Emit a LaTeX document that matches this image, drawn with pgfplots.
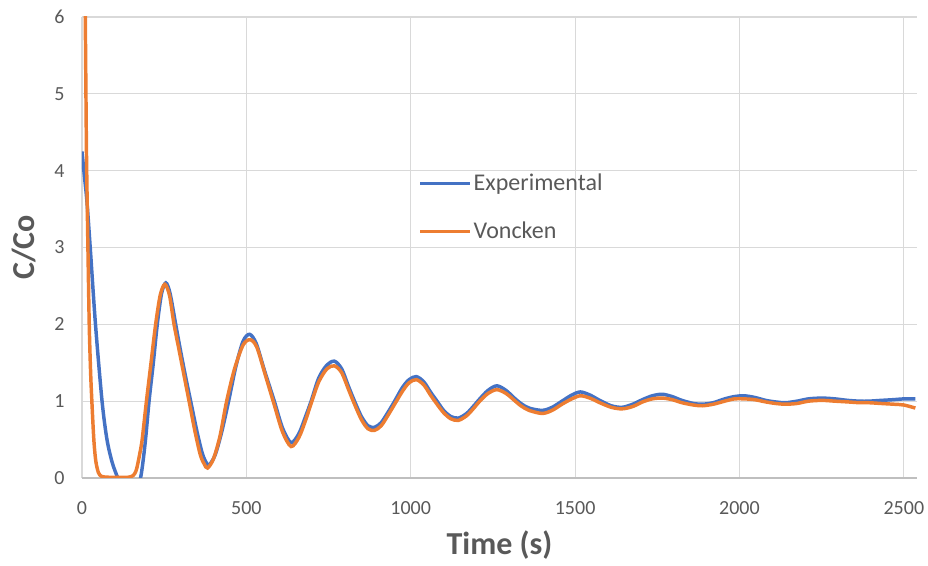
\documentclass[border=0pt]{standalone}
\usepackage{fontspec}
\setmainfont{Carlito}
\usepackage{pgfplots}
\pgfplotsset{compat=1.18}

\definecolor{expblue}{HTML}{4472C4}
\definecolor{vonorange}{HTML}{ED7D31}
\definecolor{gridgray}{HTML}{D9D9D9}
\definecolor{axisgray}{HTML}{BFBFBF}
\definecolor{textgray}{HTML}{595959}

\begin{document}
\begin{tikzpicture}
\begin{axis}[
    scale only axis,
    width=626.25pt,
    height=345.75pt,
    xmin=0, xmax=2540,
    ymin=0, ymax=6,
    xtick={0,500,...,2500},
    ytick={0,1,...,6},
    grid=major,
    grid style={gridgray, line width=0.8pt},
    axis lines*=left,
    x axis line style={axisgray, line width=0.8pt},
    y axis line style={draw=none},
    major tick length=0pt,
    /pgf/number format/assume math mode=true,
    /pgf/number format/set thousands separator={},
    tick label style={font=\fontsize{15}{18}\selectfont, text=textgray},
    yticklabel style={anchor=east, inner sep=0pt, xshift=-13pt},
    xticklabel style={anchor=base, inner sep=0pt, yshift=-27.75pt},
    xlabel={Time (s)},
    ylabel={C/Co},
    label style={font=\fontsize{24}{28}\selectfont\bfseries, text=textgray},
    xlabel style={at={(axis description cs:0.5,-0.167)}, anchor=base},
    ylabel style={at={(axis description cs:-0.0563,0.5)}, anchor=base},
    legend cell align=left,
    legend image code/.code={\draw[#1] (0pt,0pt) -- (37.5pt,0pt);},
    legend style={draw=none, fill=none, at={(0.4024,0.664)}, anchor=north west,
        font=\fontsize{18}{21}\selectfont, text=textgray, row sep=19pt,
        inner sep=0pt, nodes={inner sep=1.5pt}},
]

% Experimental
\addplot[color=expblue, line width=2.6pt, smooth]
    coordinates {
        (0,4.25) (8,3.9) (15,3.6) (25,3.0) (41,2.0) (61,1.0) (76,0.5) (92,0.2)
        (109,0.0) (125,-0.15) (143,-0.2) (160,-0.15) (178,0.0) (192,0.45)
        (204,1.0) (217,1.5) (229,2.0) (242,2.4) (255,2.54) (268,2.4) (285,2.0)
        (300,1.65) (316,1.3) (333,0.95) (350,0.6) (366,0.32) (378,0.2)
        (387,0.17) (405,0.3)
        (425,0.6) (446,1.0) (468,1.45) (490,1.78) (510,1.87) (530,1.75)
        (555,1.4) (585,1.0) (610,0.65) (636,0.46) (660,0.58) (680,0.8)
        (697,1.0) (720,1.3) (745,1.47) (768,1.52) (790,1.42) (810,1.2)
        (829,1.0) (850,0.8) (870,0.68) (890,0.66) (910,0.72) (930,0.85)
        (951,1.0) (975,1.18) (995,1.28) (1017,1.32) (1040,1.25) (1060,1.12)
        (1080,1.0) (1100,0.88) (1122,0.8) (1145,0.78) (1170,0.84) (1190,0.93)
        (1210,1.03) (1235,1.14) (1262,1.20) (1290,1.14) (1310,1.06)
        (1335,0.97) (1360,0.91) (1400,0.88) (1430,0.92) (1460,1.0)
        (1490,1.08) (1516,1.12) (1545,1.08) (1575,1.01) (1610,0.94)
        (1643,0.92) (1675,0.96) (1705,1.02) (1735,1.07) (1765,1.09)
        (1795,1.06) (1825,1.01) (1860,0.97) (1887,0.96) (1920,0.98)
        (1955,1.03) (1985,1.06) (2013,1.07) (2045,1.05) (2080,1.01)
        (2110,0.99) (2140,0.98) (2175,1.0) (2210,1.03) (2251,1.04)
        (2290,1.03) (2330,1.01) (2365,1.0) (2393,1.0) (2430,1.01)
        (2470,1.02) (2500,1.03) (2535,1.03)
    };

% Voncken
\addplot[color=vonorange, line width=2.6pt, smooth]
    coordinates {
        (2,14) (5,9.5) (8,7) (10,6) (12,5) (14,4.1) (18,3.0) (22,2.0)
        (26,1.4) (30,1.0) (36,0.5) (42,0.22) (50,0.07) (60,0.02) (80,0.01)
        (110,0.01) (140,0.01) (155,0.03) (165,0.1) (175,0.3) (183,0.5)
        (196,1.0) (210,1.5) (224,2.0) (238,2.38) (252,2.52) (266,2.38)
        (280,2.0) (296,1.65) (312,1.3) (328,0.95) (344,0.6) (360,0.3)
        (372,0.18) (382,0.13)
        (400,0.25) (420,0.55) (440,1.0) (464,1.42) (490,1.73) (512,1.80)
        (532,1.7) (557,1.35) (585,0.95) (610,0.6) (636,0.41) (660,0.53)
        (680,0.75) (697,0.97) (720,1.25) (745,1.42) (768,1.46) (790,1.37)
        (810,1.16) (829,0.96) (850,0.76) (870,0.64) (890,0.62) (910,0.68)
        (930,0.81) (951,0.96) (975,1.13) (995,1.24) (1017,1.28) (1040,1.21)
        (1060,1.08) (1080,0.96) (1100,0.85) (1122,0.77) (1145,0.75)
        (1170,0.81) (1190,0.9) (1210,1.0) (1235,1.1) (1262,1.15) (1290,1.1)
        (1310,1.03) (1335,0.94) (1360,0.88) (1400,0.84) (1430,0.88)
        (1460,0.96) (1490,1.03) (1516,1.07) (1545,1.04) (1575,0.98)
        (1610,0.92) (1643,0.9) (1675,0.93) (1705,0.99) (1735,1.03)
        (1765,1.04) (1795,1.02) (1825,0.98) (1860,0.95) (1887,0.94)
        (1920,0.96) (1955,1.0) (1985,1.03) (2013,1.03) (2045,1.02)
        (2080,0.99) (2110,0.97) (2140,0.96) (2175,0.97) (2210,1.0)
        (2251,1.01) (2290,1.0) (2330,0.99) (2365,0.98) (2393,0.98)
        (2430,0.97) (2470,0.96) (2500,0.95) (2535,0.91)
    };

\legend{Experimental, Voncken}
\end{axis}
\pgfresetboundingbox
\path ([xshift=-61.5pt,yshift=-66pt]current axis.south west)
    rectangle ([xshift=8.25pt,yshift=12.75pt]current axis.north east);
\end{tikzpicture}
\end{document}
